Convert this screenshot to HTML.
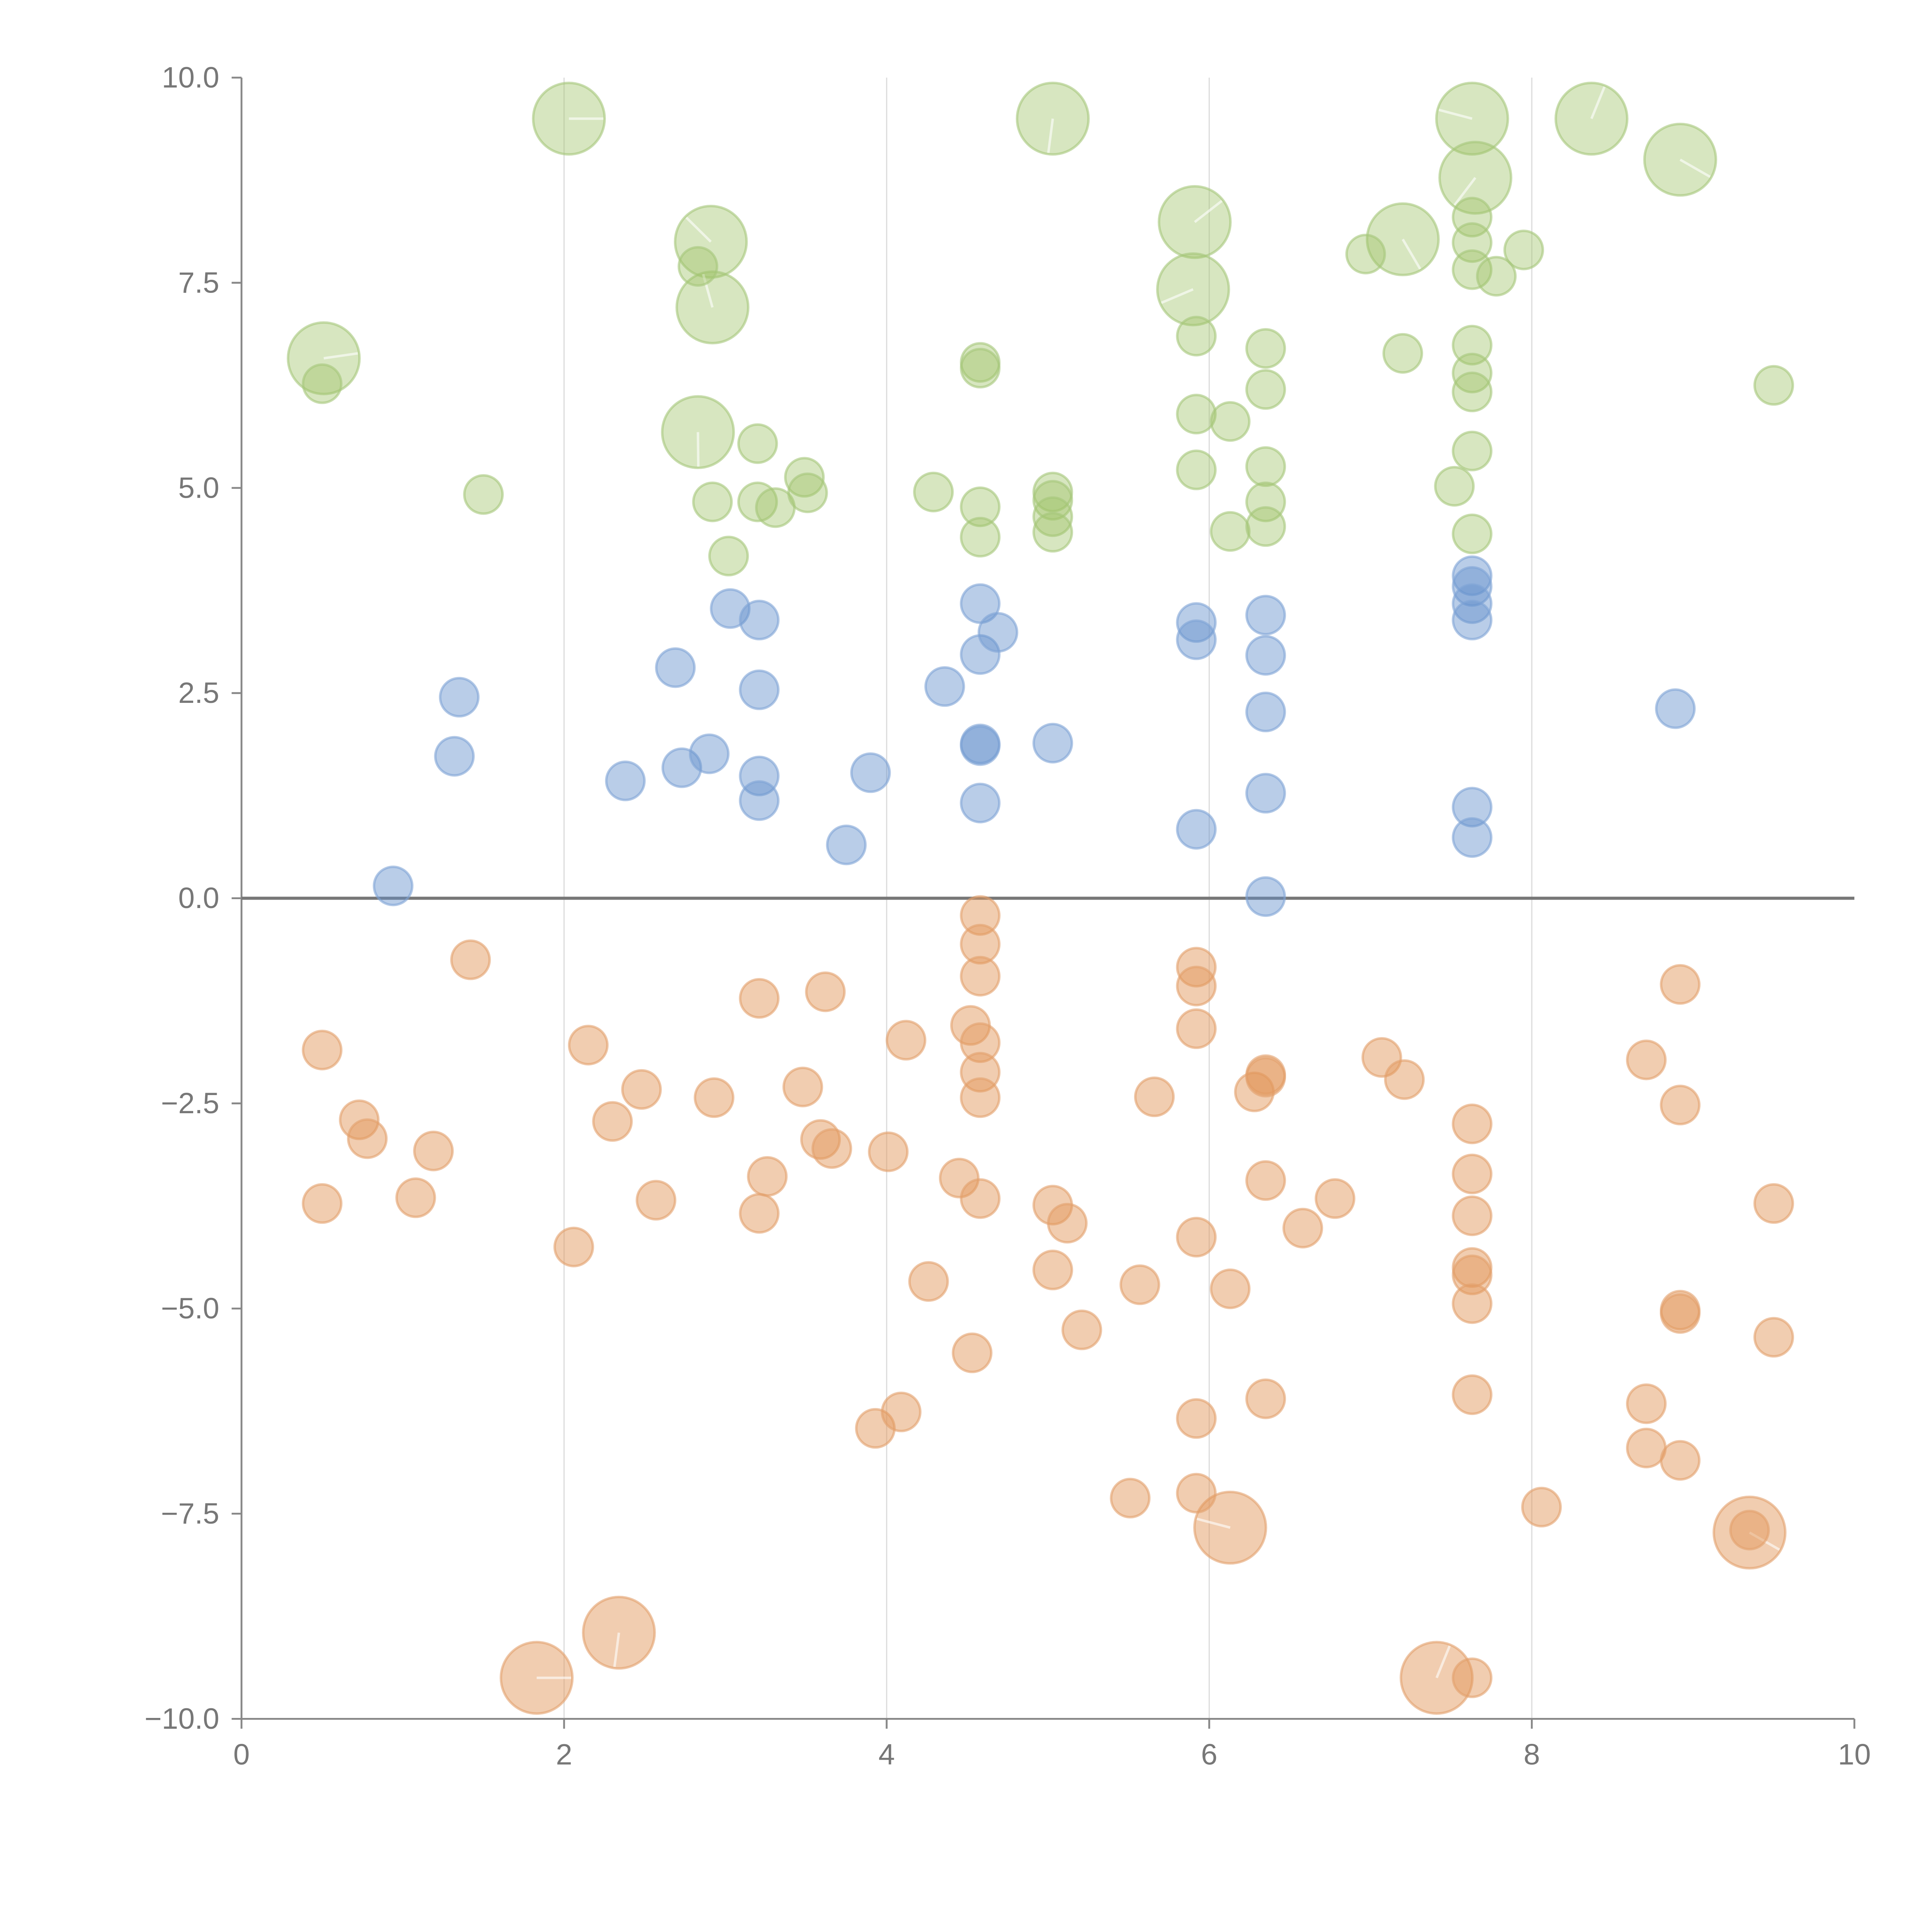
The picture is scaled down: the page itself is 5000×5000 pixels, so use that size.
<!DOCTYPE html>
<html><head><meta charset="utf-8"><style>
html,body{margin:0;padding:0;background:#fff;width:5000px;height:5000px;overflow:hidden}
svg{display:block}
text{font-family:"Liberation Sans",sans-serif;fill:#777}
</style></head><body>
<svg id="chart" width="5000" height="5000" viewBox="0 0 1568 1568" xmlns="http://www.w3.org/2000/svg">
<g id="grid"></g>
<g id="axes"></g>
<g id="marks"></g>
</svg>
<script>
const xTicks=[0,2,4,6,8,10];
const yTicks=[10,7.5,5,2.5,0,-2.5,-5,-7.5,-10];
const yTickLabels=["10.0","7.5","5.0","2.5","0.0","\u22122.5","\u22125.0","\u22127.5","\u221210.0"];
const greenX=[2.03,5.03,7.63,8.37,8.92,7.65,2.91,5.91,7.2,5.9,2.92,0.51,2.83,2.83,0.5,1.5,2.92,3.02,3.2,3.2,3.31,3.49,3.51,4.29,4.58,4.58,4.58,4.58,5.03,5.03,5.03,5.03,5.92,5.92,5.92,6.13,6.13,6.35,6.35,6.35,6.35,6.35,6.97,7.2,7.52,7.63,7.63,7.63,7.63,7.63,7.63,7.63,7.63,7.78,7.95,9.5];
const greenY=[9.5,9.5,9.5,9.5,9.0,8.78,8.0,8.24,8.03,7.42,7.2,6.58,5.68,7.7,6.27,4.92,4.83,4.17,5.54,4.83,4.76,5.13,4.94,4.95,6.53,6.46,4.77,4.4,4.95,4.85,4.65,4.46,6.85,5.9,5.22,5.81,4.47,6.7,6.2,5.26,4.83,4.53,7.85,6.64,5.02,8.3,7.99,7.66,6.74,6.4,6.17,5.45,4.44,7.58,7.9,6.25];
const greenSize=[3,3,3,3,3,3,3,3,3,3,3,3,3,1,1,1,1,1,1,1,1,1,1,1,1,1,1,1,1,1,1,1,1,1,1,1,1,1,1,1,1,1,1,1,1,1,1,1,1,1,1,1,1,1,1,1];
const blueX=[0.94,1.32,1.35,2.38,2.69,2.73,2.9,3.03,3.21,3.21,3.21,3.21,3.75,3.9,4.36,4.58,4.58,4.58,4.58,4.58,4.69,5.03,5.92,5.92,5.92,6.35,6.35,6.35,6.35,6.35,7.63,7.63,7.63,7.63,7.63,7.63,8.89];
const blueY=[0.15,1.73,2.45,1.43,2.81,1.59,1.76,3.53,3.39,2.54,1.49,1.19,0.65,1.53,2.58,3.59,2.97,1.88,1.86,1.16,3.24,1.89,3.36,3.15,0.84,3.45,2.96,2.27,1.28,0.02,3.93,3.8,3.59,3.39,1.11,0.74,2.31];
const orangeX=[1.83,2.34,6.13,7.41,9.35,0.5,0.5,0.73,0.78,1.08,1.19,1.42,2.06,2.15,2.3,2.48,2.57,2.93,3.21,3.21,3.26,3.48,3.59,3.62,3.66,3.93,4.09,4.01,4.12,4.26,4.45,4.52,4.53,4.58,4.58,4.58,4.58,4.58,4.58,4.58,5.03,5.03,5.12,5.21,5.51,5.57,5.66,5.92,5.92,5.92,5.92,5.92,5.92,6.13,6.28,6.35,6.35,6.35,6.35,6.58,6.78,7.07,7.21,7.63,7.63,7.63,7.63,7.63,7.63,7.63,7.63,8.06,8.71,8.71,8.71,8.92,8.92,8.92,8.92,8.92,9.35,9.5,9.5];
const orangeY=[-9.5,-8.95,-7.67,-9.5,-7.73,-1.85,-3.72,-2.7,-2.93,-3.65,-3.08,-0.75,-4.25,-1.79,-2.72,-2.33,-3.68,-2.43,-1.22,-3.84,-3.39,-2.3,-2.94,-1.14,-3.05,-6.46,-6.26,-3.09,-1.73,-4.67,-3.41,-1.55,-5.54,-0.21,-0.56,-0.95,-1.76,-2.12,-2.43,-3.66,-3.74,-4.53,-3.96,-5.26,-7.31,-4.71,-2.42,-0.84,-1.07,-1.59,-4.13,-6.34,-7.25,-4.76,-2.36,-2.15,-2.18,-3.44,-6.1,-4.02,-3.66,-1.94,-2.21,-2.75,-3.36,-3.87,-4.5,-4.59,-4.94,-6.05,-9.5,-7.42,-1.97,-6.16,-6.7,-1.05,-2.52,-5.02,-5.06,-6.85,-7.7,-3.72,-5.35];
const orangeSize=[3,3,3,3,3];

const NS="http://www.w3.org/2000/svg";
const X0=196,X1=1505,Y0=1395,Y1=63;
function sx(v){return X0+(v-0)/(10-0)*(X1-X0);}
function sy(v){return Y0-(v+10)/20*(Y0-Y1);}
function mk(tag,attrs,parent){const e=document.createElementNS(NS,tag);for(const k in attrs)e.setAttribute(k,attrs[k]);parent.appendChild(e);return e;}
const grid=document.getElementById('grid'),axes=document.getElementById('axes'),marks=document.getElementById('marks');

xTicks.forEach((t,i)=>{
  if(t>0&&t<10){const l=mk('line',{x1:sx(t),x2:sx(t),y1:Y1,y2:Y0,stroke:'#ddd','stroke-width':1},grid);
  
  }
  const tk=mk('line',{x1:sx(t),x2:sx(t),y1:Y0,y2:Y0+8,stroke:'#888','stroke-width':1.5},axes);
  
  
  const tx=mk('text',{x:sx(t),y:Y0+37,'text-anchor':'middle','font-size':24},axes);
  tx.textContent=String(t);
  
  
});
yTicks.forEach((t,i)=>{
  const tk=mk('line',{x1:X0-8,x2:X0,y1:sy(t),y2:sy(t),stroke:'#888','stroke-width':1.5},axes);
  
  
  const tx=mk('text',{x:X0-18,y:sy(t)+8,'text-anchor':'end','font-size':24},axes);
  tx.textContent=yTickLabels[i];
  
  
});
const ya=mk('line',{x1:X0,x2:X0,y1:Y1,y2:Y0,stroke:'#888','stroke-width':1.5},axes);


const xa=mk('line',{x1:X0,x2:X1,y1:Y0,y2:Y0,stroke:'#888','stroke-width':1.5},axes);


const zl=mk('line',{x1:X0,x2:X1,y1:sy(0),y2:sy(0),stroke:'#777','stroke-width':2.5},axes);



function draw(xs,ys,sizes,fill,stroke,name){
  xs.forEach((x,i)=>{
    const big=(sizes[i]||1)>1;
    const c=mk('circle',{cx:sx(x),cy:sy(ys[i]),r:big?29:15.5,fill:fill,stroke:stroke,'stroke-width':2,'stroke-opacity':0.6},marks);
    
    
    if(big){
      const a=(i*1.7)%6.28;
      const ln=mk('line',{x1:sx(x),y1:sy(ys[i]),x2:sx(x)+Math.cos(a)*28,y2:sy(ys[i])+Math.sin(a)*28,stroke:'#fff','stroke-width':2,'stroke-opacity':0.6},marks);
      
      
    }
  });
}
draw(greenX,greenY,greenSize,'rgba(160,195,105,0.42)','#a5c77a','green-bubble');
draw(blueX,blueY,[],'rgba(100,145,205,0.45)','#7ea3d6','blue-bubble');
draw(orangeX,orangeY,orangeSize,'rgba(225,150,90,0.48)','#e3a06c','orange-bubble');
</script>
</body></html>
